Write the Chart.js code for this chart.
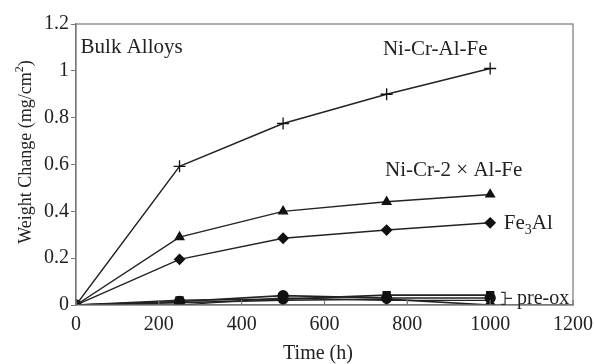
<!DOCTYPE html>
<html>
<head>
<meta charset="utf-8">
<script src="https://cdn.jsdelivr.net/npm/chart.js@4/dist/chart.umd.min.js"></script>
<style>
  html, body { margin: 0; padding: 0; background: #fff; }
  #wrap { width: 594px; height: 364px; }
</style>
</head>
<body>
<div id="wrap"><canvas id="weightChart"></canvas></div>
<script>
// oxidation time (h)
const times = [0, 250, 500, 750, 1000];
const xTicks = [0, 200, 400, 600, 800, 1000, 1200];
const yTicks = [0, 0.2, 0.4, 0.6, 0.8, 1, 1.2];

// bulk alloys, weight change (mg/cm2)
const niCrAlFe = [0, 0.592, 0.775, 0.90, 1.01];
const niCr2AlFe = [0, 0.29, 0.40, 0.441, 0.472];
const fe3Al = [0, 0.195, 0.285, 0.32, 0.351];

// pre-oxidised samples (all near zero)
const preOxSquare = [0, 0.02, 0.025, 0.042, 0.042];
const preOxCircle = [0, 0.015, 0.04, 0.03, 0.03];
const preOxDiamond = [0, 0.01, 0.02, 0.025, 0.0];
const preOxCross = [0, 0.0, 0.03, 0.02, 0.02];

const serif = "'Liberation Serif', 'Times New Roman', serif";
const ink = '#222';

function pts(vals) {
    return vals.map((v, i) => ({ x: times[i], y: v }));
}

function series(label, vals, style, size, width) {
    return {
        label: label,
        data: pts(vals),
        borderColor: '#222',
        backgroundColor: '#111',
        borderWidth: width || 1.4,
        pointStyle: style,
        pointRadius: size,
        pointBorderColor: '#111',
        pointBorderWidth: 1.3,
        tension: 0,
    };
}

// text labels, axis titles, box and inner x ticks
const annotations = {
    id: 'annotations',
    afterDraw(chart) {
        const { ctx, chartArea: a, scales: { x, y } } = chart;
        ctx.save();
        ctx.strokeStyle = '#777';
        ctx.lineWidth = 1.2;
        ctx.strokeRect(a.left, a.top, a.right - a.left, a.bottom - a.top);
        ctx.beginPath();
        xTicks.forEach(t => {
            const px = x.getPixelForValue(t);
            ctx.moveTo(px, a.bottom);
            ctx.lineTo(px, a.bottom - 5);
        });
        ctx.stroke();

        ctx.fillStyle = ink;
        ctx.textBaseline = 'middle';
        ctx.font = '21px ' + serif;
        ctx.fillText('Bulk Alloys', x.getPixelForValue(11), y.getPixelForValue(1.099));
        ctx.fillText('Ni-Cr-Al-Fe', x.getPixelForValue(741), y.getPixelForValue(1.091));
        ctx.fillText('Ni-Cr-2 \u00d7 Al-Fe', x.getPixelForValue(746), y.getPixelForValue(0.576));

        // Fe3Al with subscript
        let fx = x.getPixelForValue(1033);
        const fy = y.getPixelForValue(0.350);
        ctx.fillText('Fe', fx, fy);
        fx += ctx.measureText('Fe').width;
        ctx.font = '14px ' + serif;
        ctx.fillText('3', fx, fy + 7);
        fx += ctx.measureText('3').width;
        ctx.font = '21px ' + serif;
        ctx.fillText('Al', fx, fy);

        // pre-ox bracket
        const bx = x.getPixelForValue(1036);
        const top = y.getPixelForValue(0.054);
        const bot = y.getPixelForValue(0.003);
        const mid = (top + bot) / 2;
        ctx.strokeStyle = '#333';
        ctx.lineWidth = 1.2;
        ctx.beginPath();
        ctx.moveTo(bx - 4, top);
        ctx.lineTo(bx, top);
        ctx.lineTo(bx, bot);
        ctx.lineTo(bx - 4, bot);
        ctx.moveTo(bx, mid);
        ctx.lineTo(bx + 7, mid);
        ctx.stroke();
        ctx.font = '20px ' + serif;
        ctx.fillText('pre-ox', bx + 12, mid);

        // axis titles
        ctx.textAlign = 'center';
        ctx.font = '20px ' + serif;
        ctx.fillText('Time (h)', 318, 354);

        ctx.translate(26, 152);
        ctx.rotate(-Math.PI / 2);
        ctx.font = '18px ' + serif;
        const main = 'Weight Change (mg/cm';
        const wMain = ctx.measureText(main).width;
        ctx.font = '12px ' + serif;
        const wSup = ctx.measureText('2').width;
        ctx.font = '18px ' + serif;
        const wEnd = ctx.measureText(')').width;
        let tx = -(wMain + wSup + wEnd) / 2;
        ctx.textAlign = 'left';
        ctx.fillText(main, tx, 0);
        tx += wMain;
        ctx.font = '12px ' + serif;
        ctx.fillText('2', tx, -6);
        tx += wSup;
        ctx.font = '18px ' + serif;
        ctx.fillText(')', tx, 0);
        ctx.restore();
    }
};

new Chart(document.getElementById('weightChart'), {
    type: 'line',
    data: {
        datasets: [
            series('Ni-Cr-Al-Fe', niCrAlFe, 'cross', 6),
            series('Ni-Cr-2xAl-Fe', niCr2AlFe, 'triangle', 5),
            series('Fe3Al', fe3Al, 'rectRot', 5),
            series('pre-ox square', preOxSquare, 'rect', 5, 1.6),
            series('pre-ox circle', preOxCircle, 'circle', 5, 1.6),
            series('pre-ox diamond', preOxDiamond, 'rectRot', 5, 1.6),
            series('pre-ox cross', preOxCross, 'crossRot', 4, 1.2),
        ]
    },
    options: {
        responsive: true,
        maintainAspectRatio: false,
        animation: false,
        layout: { padding: { top: 24, right: 21, left: 0, bottom: 0 } },
        plugins: {
            legend: { display: false },
            tooltip: { enabled: false }
        },
        scales: {
            x: {
                type: 'linear',
                min: 0,
                max: 1200,
                afterBuildTicks: s => { s.ticks = xTicks.map(v => ({ value: v })); },
                afterFit: s => { s.height = 59; },
                grid: { display: false },
                border: { display: true, color: '#777', width: 1.2 },
                ticks: { color: ink, font: { family: serif, size: 20 }, padding: 0, maxRotation: 0, callback: v => String(v) },
                title: { display: false }
            },
            y: {
                min: 0,
                max: 1.2,
                afterBuildTicks: s => { s.ticks = yTicks.map(v => ({ value: v })); },
                afterFit: s => { s.width = 76; },
                grid: { drawOnChartArea: false, drawTicks: true, tickLength: 5, color: '#777' },
                border: { display: true, color: '#777', width: 1.2 },
                ticks: { color: ink, font: { family: serif, size: 20 }, padding: 2, callback: v => String(v) },
                title: { display: false }
            }
        }
    },
    plugins: [annotations]
});
</script>
</body>
</html>
